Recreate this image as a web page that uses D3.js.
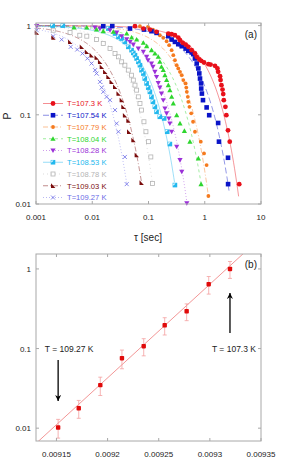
<!DOCTYPE html>
<html>
<head>
<meta charset="utf-8">
<script src="https://cdn.jsdelivr.net/npm/d3@7"></script>
<style>
	body { margin: 0; background: white; }
	svg text { font-family: "Liberation Sans", Arial, sans-serif; }
</style>
</head>
<body>
<div id="chart"></div>
<script>

// Temperatures of the runs, hottest last.
const temps = [107.3, 107.54, 107.79, 108.04, 108.28, 108.53, 108.78, 109.03, 109.27];

// Characteristic time from the fits (panel b) and its error.
const tauFit = [1.0, 0.643, 0.294, 0.196, 0.107, 0.0757, 0.0347, 0.0178, 0.0102];
const tauErr = [0.24, 0.16, 0.07, 0.048, 0.026, 0.02, 0.009, 0.0045, 0.0027];
const betaFit = [1.07, 1.01, 1.08, 0.95, 1.01, 1.04, 1.15, 0.97, 1.01];
const tauEnd = [4.0, 2.7, 1.15, 0.86, 0.48, 0.29, 0.118, 0.075, 0.041];

// Straight line fit of log10(tau) against 1/T.
const fitSlope = 11763;
const fitIntercept = -109.588;

// Survival curves P(tau), one list of [tau, P] per temperature.
const red = [[0.0575,0.985],[0.081,0.927],[0.106,0.903],[0.139,0.851],[0.225,0.815],[0.258,0.80],[0.295,0.78],[0.338,0.735],[0.363,0.686],[0.405,0.641],[0.457,0.613],[0.51,0.578],[0.585,0.531],[0.67,0.487],[0.72,0.447],[0.80,0.417],[0.865,0.403],[0.97,0.386],[1.16,0.370],[1.27,0.366],[1.52,0.354],[1.68,0.331],[1.73,0.303],[1.87,0.271],[1.91,0.245],[1.98,0.215],[2.07,0.192],[2.13,0.171],[2.18,0.146],[2.33,0.123],[2.42,0.099],[2.59,0.067],[2.78,0.050],[4.1,0.0167]];
const blue = [[0.0157,0.985],[0.0227,0.99],[0.0469,0.927],[0.083,0.903],[0.113,0.866],[0.139,0.829],[0.225,0.761],[0.258,0.698],[0.295,0.657],[0.338,0.619],[0.39,0.588],[0.457,0.553],[0.51,0.521],[0.585,0.50],[0.625,0.479],[0.67,0.428],[0.72,0.376],[0.77,0.331],[0.80,0.291],[0.824,0.255],[0.86,0.225],[0.865,0.197],[0.89,0.173],[0.93,0.146],[1.08,0.121],[1.2,0.099],[1.73,0.081],[1.79,0.050],[2.59,0.033],[2.6,0.0167]];
const orange = [[0.0705,0.985],[0.098,0.97],[0.12,0.903],[0.139,0.851],[0.159,0.78],[0.183,0.73],[0.21,0.668],[0.233,0.604],[0.258,0.531],[0.276,0.466],[0.295,0.409],[0.317,0.36],[0.338,0.331],[0.363,0.303],[0.39,0.278],[0.416,0.245],[0.457,0.225],[0.47,0.202],[0.48,0.181],[0.50,0.159],[0.51,0.14],[0.535,0.123],[0.575,0.104],[0.62,0.0836],[0.67,0.0646],[0.85,0.050],[0.97,0.0369],[1.08,0.0273],[1.16,0.0123]];
const green = [[0.00474,0.951],[0.008,0.951],[0.0119,0.903],[0.0157,0.866],[0.0237,0.851],[0.041,0.815],[0.05,0.735],[0.0615,0.698],[0.081,0.641],[0.0926,0.588],[0.113,0.531],[0.13,0.487],[0.149,0.447],[0.159,0.393],[0.17,0.345],[0.183,0.317],[0.196,0.278],[0.21,0.245],[0.225,0.215],[0.24,0.189],[0.258,0.159],[0.276,0.134],[0.317,0.099],[0.363,0.08],[0.435,0.066],[0.545,0.05],[0.77,0.0324],[0.86,0.0167]];
const purple = [[0.00103,0.99],[0.0112,0.951],[0.0137,0.927],[0.0207,0.888],[0.0272,0.836],[0.0333,0.761],[0.041,0.704],[0.047,0.657],[0.0537,0.613],[0.066,0.553],[0.081,0.508],[0.0926,0.447],[0.098,0.409],[0.113,0.376],[0.12,0.345],[0.13,0.303],[0.139,0.266],[0.149,0.228],[0.159,0.202],[0.17,0.173],[0.183,0.146],[0.196,0.118],[0.21,0.104],[0.23,0.091],[0.24,0.08],[0.258,0.0646],[0.317,0.0439],[0.363,0.0311],[0.39,0.023],[0.48,0.0102]];
const cyan = [[0.00198,1.0],[0.003,1.0],[0.0193,0.927],[0.0254,0.815],[0.0292,0.748],[0.0333,0.716],[0.038,0.657],[0.0438,0.578],[0.05,0.531],[0.0537,0.495],[0.0575,0.466],[0.0615,0.428],[0.066,0.393],[0.0705,0.36],[0.075,0.317],[0.081,0.29],[0.086,0.255],[0.0926,0.225],[0.099,0.202],[0.106,0.181],[0.113,0.159],[0.12,0.14],[0.13,0.123],[0.139,0.108],[0.159,0.095],[0.19,0.091],[0.215,0.0646],[0.24,0.047],[0.295,0.0163]];
const gray = [[0.00203,0.888],[0.00403,0.836],[0.006,0.78],[0.008,0.761],[0.0119,0.698],[0.0157,0.63],[0.0207,0.553],[0.0254,0.487],[0.0292,0.447],[0.0333,0.393],[0.038,0.36],[0.0438,0.317],[0.05,0.278],[0.0537,0.245],[0.0575,0.215],[0.0615,0.189],[0.066,0.159],[0.0705,0.134],[0.075,0.113],[0.083,0.0836],[0.09,0.0646],[0.1,0.05],[0.11,0.0337],[0.118,0.017]];
const brown = [[0.00103,0.836],[0.00203,0.735],[0.00403,0.657],[0.0065,0.578],[0.008,0.508],[0.0097,0.466],[0.0119,0.438],[0.0137,0.393],[0.0147,0.345],[0.0169,0.303],[0.0193,0.266],[0.022,0.234],[0.0254,0.206],[0.0292,0.173],[0.0333,0.146],[0.0357,0.123],[0.038,0.0986],[0.0438,0.0862],[0.045,0.0646],[0.0537,0.052],[0.0615,0.0355],[0.075,0.0173]];
const lightblue = [[0.00103,0.888],[0.00203,0.761],[0.00286,0.698],[0.00414,0.578],[0.0054,0.539],[0.0067,0.487],[0.0082,0.428],[0.0097,0.376],[0.0112,0.317],[0.0119,0.29],[0.0137,0.234],[0.0147,0.202],[0.0157,0.181],[0.018,0.159],[0.0207,0.146],[0.0254,0.113],[0.0272,0.08],[0.0292,0.0646],[0.038,0.0337],[0.041,0.0167]];

const curves = [red, blue, orange, green, purple, cyan, gray, brown, lightblue];

// Styling per series.
const colors = ["#e8101a", "#0a14c8", "#f57a1e", "#2ed62e", "#9b30d8", "#22b8ee", "#b4b4b4", "#7a0c0c", "#6a6ae6"];
const symbols = ["circle", "square", "dot", "up", "down", "halfsquare", "opensquare", "corner", "cross"];
const dashes = [null, "6,3", "5,2,1,2", "3,3", "1,2", null, "1,3", "5,2,1,2", "1,2"];


const W = 295, H = 461;
const frameColor = "#a8a8a8";

const svg = d3.select("#chart")
  .append("svg")
	.attr("width", W)
	.attr("height", H);


// Panel (a) scales.
const xa = d3.scaleLog().domain([0.001, 10]).range([36, 261]);
const ya = d3.scaleLog().domain([0.01, 1.07]).range([204, 23]);

// Panel (b) scales.
const xb = d3.scaleLinear().domain([0.00913, 0.00935]).range([36, 261]);
const yb = d3.scaleLog().domain([0.0069, 1.54]).range([441, 254]);



function frame(g, xs, ys, xticks, yticks, xfmt, yfmt){
	// Box round the plot with mirrored inward ticks, gnuplot style.
	let [x0, x1] = xs.range();
	let [y0, y1] = ys.range();
	
	g.append("rect")
	  .attr("x", x0).attr("y", y1)
	  .attr("width", x1-x0).attr("height", y0-y1)
	  .attr("fill", "none")
	  .attr("stroke", frameColor)
	  .attr("stroke-width", 1);
	
	xticks.forEach(t=>{
		let x = xs(t);
		g.append("line").attr("x1", x).attr("x2", x).attr("y1", y0).attr("y2", y0-3).attr("stroke", frameColor);
		g.append("line").attr("x1", x).attr("x2", x).attr("y1", y1).attr("y2", y1+3).attr("stroke", frameColor);
		g.append("text")
		  .attr("x", x).attr("y", y0+16)
		  .attr("text-anchor", "middle")
		  .attr("font-size", 8)
		  .attr("fill", "#222")
		  .text(xfmt(t));
	}) // forEach
	
	yticks.forEach(t=>{
		let y = ys(t);
		g.append("line").attr("x1", x0).attr("x2", x0+3).attr("y1", y).attr("y2", y).attr("stroke", frameColor);
		g.append("line").attr("x1", x1).attr("x2", x1-3).attr("y1", y).attr("y2", y).attr("stroke", frameColor);
		g.append("text")
		  .attr("x", x0-5).attr("y", y+3)
		  .attr("text-anchor", "end")
		  .attr("font-size", 8)
		  .attr("fill", "#222")
		  .text(yfmt(t));
	}) // forEach
} // frame



function marker(g, type, x, y, color){
	// Draw one point symbol centred on x,y.
	let s = 2.3;
	switch(type){
		case "circle":
			g.append("circle").attr("cx", x).attr("cy", y).attr("r", 2.4).attr("fill", color);
			break;
		case "dot":
			g.append("circle").attr("cx", x).attr("cy", y).attr("r", 1.9).attr("fill", color);
			break;
		case "square":
			g.append("rect").attr("x", x-s).attr("y", y-s).attr("width", 2*s).attr("height", 2*s).attr("fill", color);
			break;
		case "opensquare":
			g.append("rect").attr("x", x-2).attr("y", y-2).attr("width", 4).attr("height", 4)
			  .attr("fill", "none").attr("stroke", color).attr("stroke-width", 0.8);
			break;
		case "halfsquare":
			g.append("rect").attr("x", x-s).attr("y", y-s).attr("width", 2*s).attr("height", 2*s).attr("fill", color);
			g.append("path").attr("d", `M${x-s+0.6},${y-s+0.6}L${x+0.6},${y-s+0.6}L${x-s+0.6},${y+0.6}Z`).attr("fill", "white");
			break;
		case "up":
			g.append("path").attr("d", `M${x},${y-2.6}L${x+2.6},${y+2}L${x-2.6},${y+2}Z`).attr("fill", color);
			break;
		case "down":
			g.append("path").attr("d", `M${x},${y+2.6}L${x+2.6},${y-2}L${x-2.6},${y-2}Z`).attr("fill", color);
			break;
		case "corner":
			g.append("path").attr("d", `M${x-2},${y-2.4}L${x+2.4},${y+2.2}L${x-2},${y+2.2}Z`).attr("fill", color);
			break;
		case "cross":
			g.append("path").attr("d", `M${x-2},${y-2}L${x+2},${y+2}M${x-2},${y+2}L${x+2},${y-2}`)
			  .attr("stroke", color).attr("stroke-width", 0.8);
			break;
	} // switch
} // marker



// ---------------- Panel (a) ----------------
const ga = svg.append("g");

svg.append("clipPath").attr("id", "clipa")
  .append("rect").attr("x", 36).attr("y", 23).attr("width", 225).attr("height", 181);

const fitsA = ga.append("g").attr("clip-path", "url(#clipa)");
const pointsA = ga.append("g");


// Stretched exponential fit lines.
const fitLine = d3.line().x(d=>xa(d[0])).y(d=>ya(d[1]));
curves.forEach((c,i)=>{
	let pts = [];
	let lo = Math.log10(0.001), hi = Math.log10(tauEnd[i]);
	for(let k=0; k<=200; k++){
		let t = Math.pow(10, lo + (hi-lo)*k/200);
		pts.push([t, Math.exp(-Math.pow(t/tauFit[i], betaFit[i]))]);
	} // for
	fitsA.append("path")
	  .attr("d", fitLine(pts))
	  .attr("fill", "none")
	  .attr("stroke", colors[i])
	  .attr("stroke-opacity", 0.55)
	  .attr("stroke-width", 0.8)
	  .attr("stroke-dasharray", dashes[i]);
}) // forEach


// Data points, coldest on top.
for(let i=curves.length-1; i>=0; i--){
	curves[i].forEach(d=>{
		marker(pointsA, symbols[i], xa(d[0]), ya(d[1]), colors[i]);
	}) // forEach
} // for


frame(ga, xa, ya, [0.001, 0.01, 0.1, 1, 10], [0.01, 0.1, 1], d=>String(d), d=>String(d));


// Legend.
temps.forEach((T,i)=>{
	let y = 103.5 + i*11.75;
	ga.append("line")
	  .attr("x1", 43).attr("x2", 63).attr("y1", y).attr("y2", y)
	  .attr("stroke", colors[i])
	  .attr("stroke-opacity", 0.6)
	  .attr("stroke-width", 0.8)
	  .attr("stroke-dasharray", dashes[i]);
	marker(ga, symbols[i], 53, y, colors[i]);
	ga.append("text")
	  .attr("x", 67).attr("y", y+2.8)
	  .attr("font-size", 7.6)
	  .attr("fill", colors[i])
	  .text(`T=${T} K`);
}) // forEach

ga.append("text")
  .attr("x", 257).attr("y", 37.5)
  .attr("text-anchor", "end")
  .attr("font-size", 10)
  .attr("fill", "#222")
  .text("(a)");

ga.append("text")
  .attr("transform", "translate(11,116) rotate(-90)")
  .attr("text-anchor", "middle")
  .attr("font-size", 11)
  .attr("fill", "#222")
  .text("P");

ga.append("text")
  .attr("x", 148).attr("y", 241)
  .attr("text-anchor", "middle")
  .attr("font-size", 10)
  .attr("fill", "#222")
  .text("τ [sec]");



// ---------------- Panel (b) ----------------
const gb = svg.append("g");

svg.append("clipPath").attr("id", "clipb")
  .append("rect").attr("x", 36).attr("y", 254).attr("width", 225).attr("height", 187);

// Arrhenius fit line.
let fitX = xb.domain();
gb.append("g").attr("clip-path", "url(#clipb)")
  .append("path")
	.attr("d", d3.line().x(d=>xb(d)).y(d=>yb(Math.pow(10, fitIntercept + fitSlope*d)))(fitX))
	.attr("fill", "none")
	.attr("stroke", "#f08a8a")
	.attr("stroke-width", 0.9);

// Error bars and points.
temps.forEach((T,i)=>{
	let x = xb(1/T);
	let yhi = yb(tauFit[i] + tauErr[i]);
	let ylo = yb(tauFit[i] - tauErr[i]);
	gb.append("path")
	  .attr("d", `M${x},${yhi}L${x},${ylo}M${x-2},${yhi}L${x+2},${yhi}M${x-2},${ylo}L${x+2},${ylo}`)
	  .attr("stroke", "#f4a0a0")
	  .attr("stroke-width", 0.8)
	  .attr("fill", "none");
	gb.append("rect")
	  .attr("x", x-2.2).attr("y", yb(tauFit[i])-2.2)
	  .attr("width", 4.4).attr("height", 4.4)
	  .attr("rx", 0.8)
	  .attr("fill", "#e00a0a");
}) // forEach

frame(gb, xb, yb, [0.00915, 0.0092, 0.00925, 0.0093, 0.00935], [0.01, 0.1, 1], d=>String(+d.toFixed(5)), d=>String(d));

gb.append("text")
  .attr("x", 257).attr("y", 267.5)
  .attr("text-anchor", "end")
  .attr("font-size", 10)
  .attr("fill", "#222")
  .text("(b)");


// Annotations for the two ends of the temperature range.
gb.append("defs").append("marker")
  .attr("id", "head")
  .attr("viewBox", "0 0 10 10")
  .attr("refX", 10).attr("refY", 5)
  .attr("markerWidth", 8).attr("markerHeight", 6)
  .attr("markerUnits", "userSpaceOnUse")
  .attr("orient", "auto")
  .append("path")
	.attr("d", "M0,0L10,5L0,10L3,5Z")
	.attr("fill", "black");

gb.append("text")
  .attr("x", xb(1/temps[8]) + 11).attr("y", yb(0.1) + 3)
  .attr("text-anchor", "middle")
  .attr("font-size", 8.5)
  .attr("fill", "#222")
  .text("T = 109.27 K");

gb.append("line")
  .attr("x1", xb(1/temps[8])).attr("x2", xb(1/temps[8]))
  .attr("y1", yb(0.072)).attr("y2", yb(0.022))
  .attr("stroke", "black").attr("stroke-width", 1.3)
  .attr("marker-end", "url(#head)");

gb.append("text")
  .attr("x", xb(1/temps[0]) + 4).attr("y", yb(0.1) + 3)
  .attr("text-anchor", "middle")
  .attr("font-size", 8.5)
  .attr("fill", "#222")
  .text("T = 107.3 K");

gb.append("line")
  .attr("x1", xb(1/temps[0])).attr("x2", xb(1/temps[0]))
  .attr("y1", yb(0.157)).attr("y2", yb(0.5))
  .attr("stroke", "black").attr("stroke-width", 1.3)
  .attr("marker-end", "url(#head)");

</script>
</body>
</html>
